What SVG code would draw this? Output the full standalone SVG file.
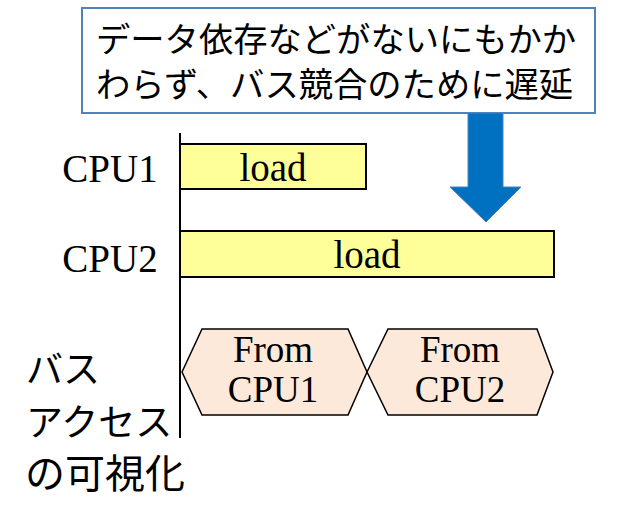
<svg xmlns="http://www.w3.org/2000/svg" width="619" height="520" viewBox="0 0 619 520">
<style>
.jp{font-family:"Noto Sans CJK JP","Noto Sans",sans-serif;fill:#000}
.sr{font-family:"Liberation Serif","Times New Roman",serif;font-size:39px;fill:#000}
.hx{font-size:37px}
.load{fill:#ffff99;stroke:#000;stroke-width:2}
.hex{fill:#fde9d9;stroke:#000;stroke-width:1.5}
</style>
<rect width="619" height="520" fill="#fff"/>
<g id="callout">
<rect x="82" y="8" width="513" height="105" fill="#fff" stroke="#4f81bd" stroke-width="2"/>
<text class="jp" x="96" y="52" font-size="34.3">データ依存などがないにもかか</text>
<text class="jp" x="96" y="97" font-size="34.3">わらず、バス競合のために遅延</text>
</g>
<g id="arrow">
<polygon points="468,113 503,113 503,187 521,187 486,222 450,187 468,187" fill="#0070c0" stroke="#4f81bd" stroke-width="1"/>
</g>
<g id="connectors">
<line x1="180" y1="133" x2="180" y2="438" stroke="#000" stroke-width="2"/>
</g>
<g id="labels">
<text class="sr" x="110" y="182" text-anchor="middle">CPU1</text>
<text class="sr" x="110" y="272" text-anchor="middle">CPU2</text>
<text class="jp" x="26" y="383" font-size="37">バス</text>
<text class="jp" x="26" y="436" font-size="37">アクセス</text>
<text class="jp" x="25" y="488" font-size="40">の可視化</text>
</g>
<g id="cpu1-load">
<rect class="load" x="180" y="144" width="186" height="45"/>
<text class="sr" x="273" y="181" text-anchor="middle">load</text>
</g>
<g id="cpu2-load">
<rect class="load" x="180" y="231" width="374" height="46"/>
<text class="sr" x="367" y="268" text-anchor="middle">load</text>
</g>
<g id="bus-cpu1">
<polygon class="hex" points="182,372 202,329 348,329 367,372 348,415 202,415"/>
<text class="sr hx" x="273" y="362" text-anchor="middle">From</text>
<text class="sr hx" x="273" y="402" text-anchor="middle">CPU1</text>
</g>
<g id="bus-cpu2">
<polygon class="hex" points="367,372 388,329 537,329 553,372 537,415 388,415"/>
<text class="sr hx" x="460" y="362" text-anchor="middle">From</text>
<text class="sr hx" x="460" y="402" text-anchor="middle">CPU2</text>
</g>
</svg>
